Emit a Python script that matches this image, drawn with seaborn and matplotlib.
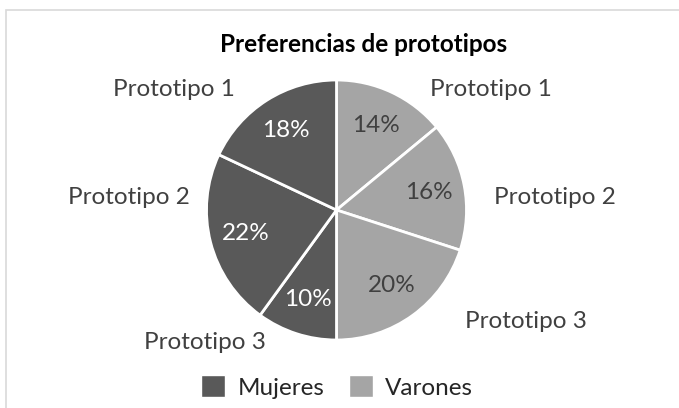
import matplotlib
matplotlib.use('Agg')
import matplotlib.pyplot as plt
import seaborn as sns
from matplotlib.patches import Patch, Rectangle

sns.set_theme(style='white')
plt.rcParams['font.family'] = ['Lato', 'DejaVu Sans']

# data, clockwise from the top
grupos = ['Varones', 'Varones', 'Varones', 'Mujeres', 'Mujeres', 'Mujeres']
prototipos = ['Prototipo 1', 'Prototipo 2', 'Prototipo 3', 'Prototipo 3', 'Prototipo 2', 'Prototipo 1']
porcentajes = [14, 16, 20, 10, 22, 18]

colores = {'Mujeres': '#595959', 'Varones': '#a5a5a5'}
color_texto = {'Mujeres': 'white', 'Varones': '#404040'}

# label places (pie radius = 1), roughly where the original puts them
pos_etiquetas = [(1.19, 0.93), (1.68, 0.10), (1.46, -0.86),
                 (-1.01, -1.02), (-1.60, 0.10), (-1.25, 0.93)]

W, H = 679, 408
fs = 17.5
fig = plt.figure(figsize=(W / 100, H / 100), dpi=100)

# light frame like the office chart area
fig.patches.append(Rectangle((6 / W, -0.1), 1.2, 1 - 10 / H + 0.1, transform=fig.transFigure,
                             fill=False, edgecolor='#d9d9d9', linewidth=1.2))

cx, cy, r = 336.5, 210, 130
ax = fig.add_axes([(cx - r) / W, (H - cy - r) / H, 2 * r / W, 2 * r / H])

wedges, texts, autotexts = ax.pie(
    porcentajes,
    labels=prototipos,
    colors=[colores[g] for g in grupos],
    startangle=90,
    counterclock=False,
    autopct='%1.0f%%',
    pctdistance=0.72,
    wedgeprops=dict(edgecolor='white', linewidth=2),
    textprops=dict(fontsize=fs),
)
ax.set_xlim(-1, 1)
ax.set_ylim(-1, 1)

for t, p in zip(texts, pos_etiquetas):
    t.set_position(p)
    t.set_ha('center')
    t.set_va('center')
    t.set_color('#404040')
    t.set_clip_on(False)

for t, g in zip(autotexts, grupos):
    t.set_color(color_texto[g])

fig.text(364 / W, 1 - 44 / H, 'Preferencias de prototipos', ha='center', va='center',
         fontsize=fs, fontweight='bold', color='black')

handles = [Patch(facecolor=colores['Mujeres'], label='Mujeres'),
           Patch(facecolor=colores['Varones'], label='Varones')]
fig.legend(handles=handles, loc='center', bbox_to_anchor=(337 / W, 1 - 387 / H), ncol=2,
           frameon=False, fontsize=fs, handlelength=1.0, handleheight=1.0,
           handletextpad=0.5, columnspacing=1.0)

fig.savefig('out.png', dpi=100, facecolor='white')
